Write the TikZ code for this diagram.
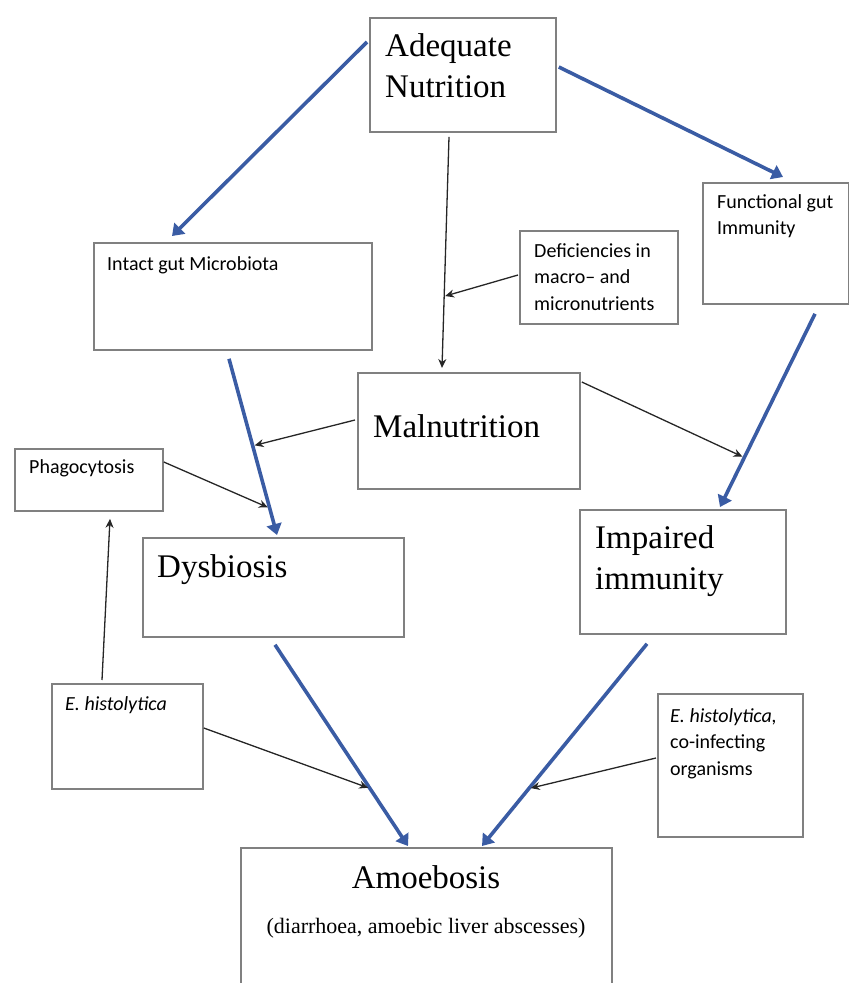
\documentclass[tikz,border=0pt]{standalone}
\usepackage{fontspec}
\setmainfont{Liberation Serif}
\newfontfamily\calfont{Carlito}
\usetikzlibrary{arrows.meta,calc}
\definecolor{arrowblue}{RGB}{58,92,164}
\definecolor{boxgray}{RGB}{128,128,128}
\begin{document}
\begin{tikzpicture}[x=1pt,y=-1pt,
  box/.style={draw=boxgray,line width=1.8pt,rectangle,inner sep=0pt,anchor=north west},
  big/.style={font=\fontsize{33}{41.5}\selectfont,inner sep=0pt,anchor=base west},
  small/.style={font=\calfont\fontsize{20}{26.7}\selectfont,inner sep=0pt,anchor=base west},
  bluearrow/.style={draw=arrowblue,line width=3.6pt,-{Triangle[length=11pt,width=15pt]}},
  blackarrow/.style={draw=black!85,line width=1.3pt,-{Stealth[length=9pt,width=8pt]}}]
\useasboundingbox (0,0) rectangle (849,983);

% boxes
\node[box,minimum width=186pt,minimum height=114pt] (an)  at (369,17)  {};
\node[box,minimum width=278pt,minimum height=107pt] (igm) at (93,242)  {};
\node[box,minimum width=146pt,minimum height=121pt] (fgi) at (702,182) {};
\node[box,minimum width=158pt,minimum height=93pt]  (def) at (519,230) {};
\node[box,minimum width=222pt,minimum height=116pt] (mal) at (357,372) {};
\node[box,minimum width=148pt,minimum height=62pt]  (pha) at (14,448)  {};
\node[box,minimum width=261pt,minimum height=99pt]  (dys) at (142,537) {};
\node[box,minimum width=206pt,minimum height=124pt] (imp) at (579,509) {};
\node[box,minimum width=151pt,minimum height=105pt] (ehl) at (51,683)  {};
\node[box,minimum width=145pt,minimum height=143pt] (ehr) at (657,693) {};
\node[box,draw=none,minimum width=369pt,minimum height=140pt] (amo) at (241,848) {};
\draw[boxgray,line width=1.8pt] ($(amo.north west)+(0,140)$) -- (amo.north west) -- (amo.north east) -- ++(0,140);

% texts
\node[big] (tan) at (385,56) {\vtop{\hbox{Adequate}\hbox{Nutrition}}};
\node[small] (tigm) at (107,270) {Intact gut Microbiota};
\node[small] (tfgi) at (717,208) {\vtop{\hbox{Functional gut}\hbox{Immunity}}};
\node[small] (tdef) at (534,257) {\vtop{\hbox{Deficiencies in}\hbox{macro– and}\hbox{micronutrients}}};
\node[big] (tmal) at (373,437) {Malnutrition};
\node[small] (tpha) at (29,473) {Phagocytosis};
\node[big] (tdys) at (157,577) {Dysbiosis};
\node[big] (timp) at (595,548) {\vtop{\hbox{Impaired}\hbox{immunity}}};
\node[small] (tehl) at (65,710) {\itshape E. histolytica};
\node[small] (tehr) at (670,722) {\vtop{\hbox{\itshape E. histolytica,}\hbox{co-infecting}\hbox{organisms}}};
\node[big,anchor=base] (tamo) at (426,888) {Amoebosis};
\node[font=\fontsize{22}{26}\selectfont,inner sep=0pt,anchor=base] (tamo2) at (426,933) {(diarrhoea, amoebic liver abscesses)};

% arrow end coordinates
\coordinate (b1s) at ($(an.north west)+(-2,25)$);
\coordinate (b1e) at ($(igm.north west)+(79,-6)$);
\coordinate (b2s) at ($(an.north east)+(2,50)$);
\coordinate (b2e) at ($(fgi.north west)+(81,-5)$);
\coordinate (b3s) at ($(igm.south west)+(136,8)$);
\coordinate (b3e) at ($(dys.north west)+(135,-2)$);
\coordinate (b4s) at ($(fgi.south west)+(113,9)$);
\coordinate (b4e) at ($(imp.north west)+(141,-2)$);
\coordinate (b5s) at ($(dys.south west)+(133,7)$);
\coordinate (b5e) at ($(amo.north west)+(167,-2)$);
\coordinate (b6s) at ($(imp.south west)+(68,9)$);
\coordinate (b6e) at ($(amo.north west)+(241,-2)$);
\coordinate (k7s) at ($(an.south west)+(80,4)$);
\coordinate (k7e) at ($(mal.north west)+(85,-4)$);

\coordinate (j7) at ($(k7s)!0.69!(k7e)$);
\coordinate (j3a) at ($(b3s)!0.494!(b3e)$);
\coordinate (j4) at ($(b4s)!0.744!(b4e)$);
\coordinate (j3b) at ($(b3s)!0.848!(b3e)$);
\coordinate (j5) at ($(b5s)!0.714!(b5e)$);
\coordinate (j6) at ($(b6s)!0.716!(b6e)$);

% blue arrows
\draw[bluearrow] (b1s) -- (b1e);
\draw[bluearrow] (b2s) -- (b2e);
\draw[bluearrow] (b3s) -- (b3e);
\draw[bluearrow] (b4s) -- (b4e);
\draw[bluearrow] (b5s) -- (b5e);
\draw[bluearrow] (b6s) -- (b6e);

% black arrows
\draw[blackarrow] (k7s) -- (k7e);
\draw[blackarrow,shorten >=1pt] ($(def.north west)+(-1,45)$) -- (j7);
\draw[blackarrow,shorten >=2pt] ($(mal.north west)+(-2,48)$) -- (j3a);
\draw[blackarrow,shorten >=2pt] ($(mal.north east)+(1,10)$) -- (j4);
\draw[blackarrow,shorten >=2pt] ($(pha.north east)+(0,14)$) -- (j3b);
\draw[blackarrow] ($(ehl.north west)+(51,-3)$) -- ($(pha.south west)+(96,7)$);
\draw[blackarrow,shorten >=2pt] ($(ehl.north east)+(0,45)$) -- (j5);
\draw[blackarrow,shorten >=2pt] ($(ehr.north west)+(-1,65)$) -- (j6);
\end{tikzpicture}
\end{document}
